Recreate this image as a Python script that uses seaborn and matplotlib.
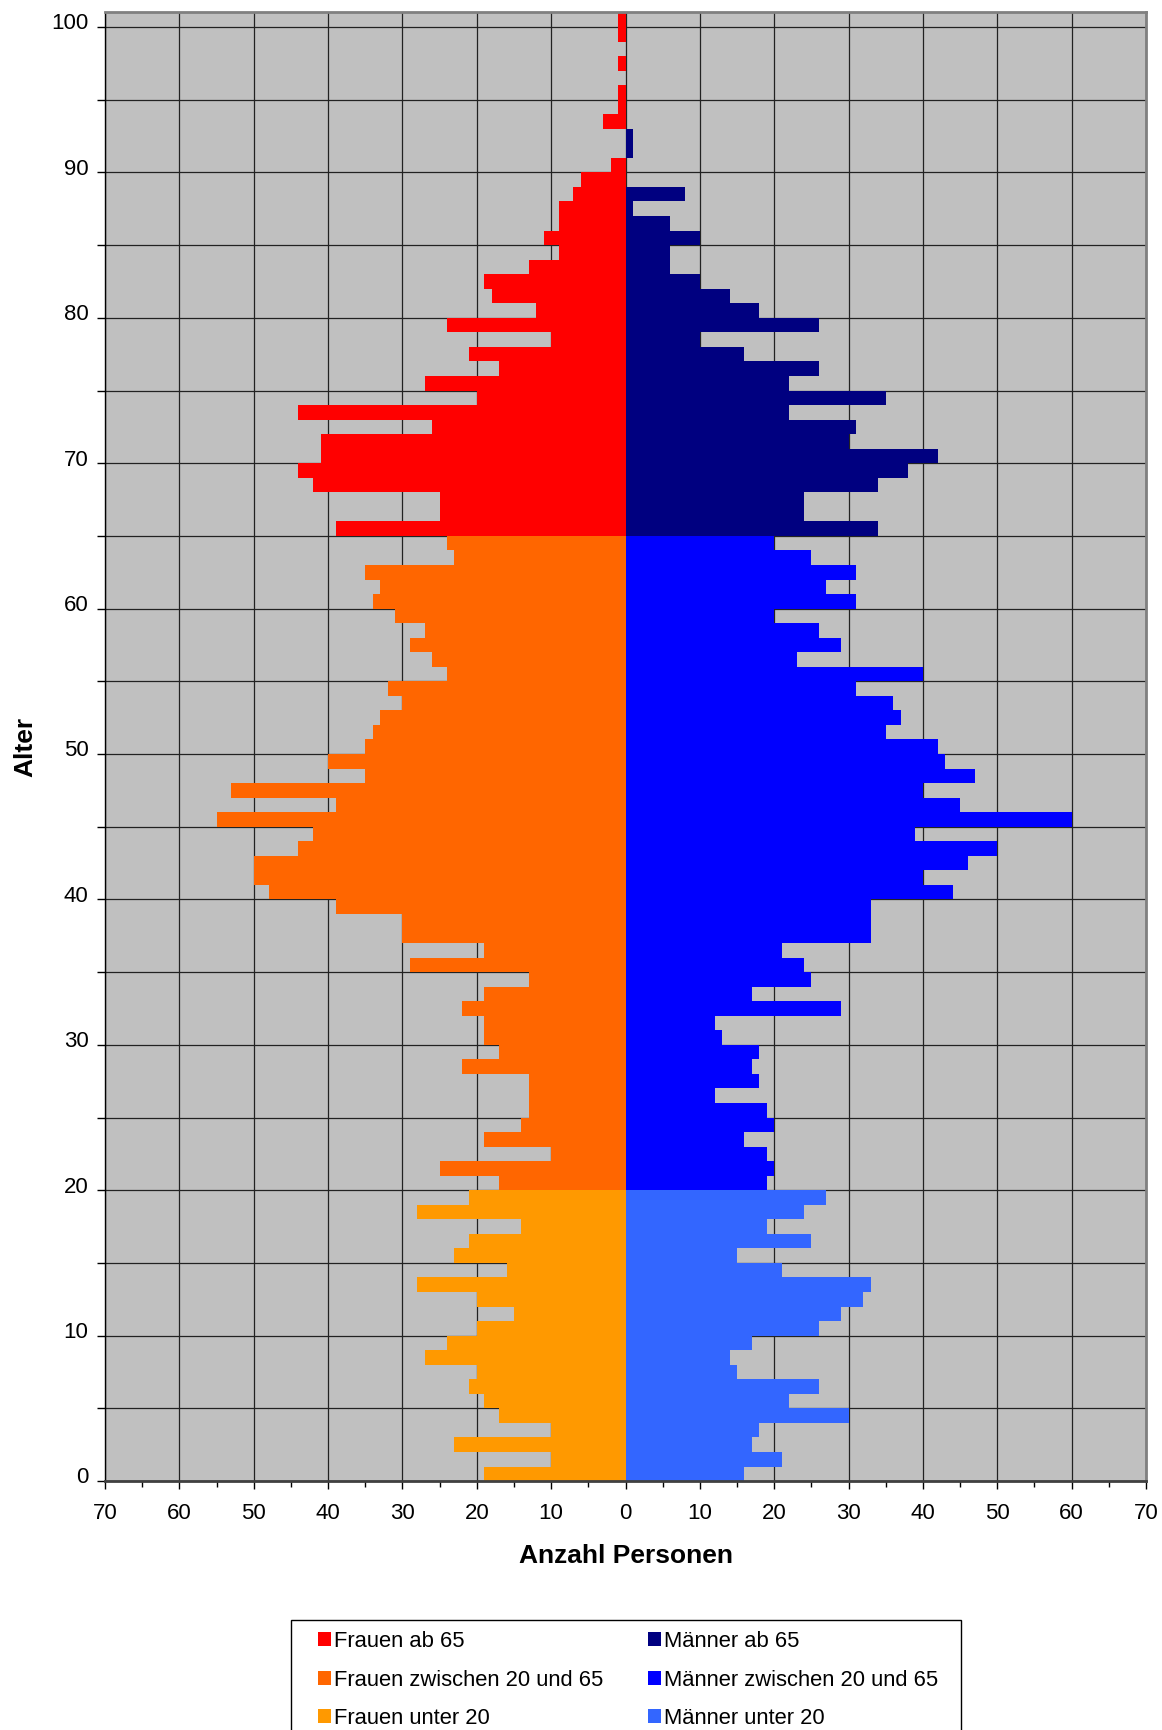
import numpy as np
import pandas as pd
import matplotlib
matplotlib.use("Agg")
import matplotlib.pyplot as plt
import matplotlib.transforms as mtransforms
from matplotlib.patches import Patch, Rectangle
from matplotlib.ticker import FuncFormatter, MultipleLocator
import seaborn as sns

# Alter 0..100
ages = np.arange(101)

frauen = [19, 10, 23, 10, 17, 19, 21, 20, 27, 24,
          20, 15, 20, 28, 16, 23, 21, 14, 28, 21,
          17, 25, 10, 19, 14, 13, 13, 13, 22, 17,
          19, 19, 22, 19, 13, 29, 19, 30, 30, 39,
          48, 50, 50, 44, 42, 55, 39, 53, 35, 40,
          35, 34, 33, 30, 32, 24, 26, 29, 27, 31,
          34, 33, 35, 23, 24, 39, 25, 25, 42, 44,
          41, 41, 26, 44, 20, 27, 17, 21, 10, 24,
          12, 18, 19, 13, 9, 11, 9, 9, 7, 6,
          2, 0, 0, 3, 1, 1, 0, 1, 0, 1,
          1]

maenner = [16, 21, 17, 18, 30, 22, 26, 15, 14, 17,
           26, 29, 32, 33, 21, 15, 25, 19, 24, 27,
           19, 20, 19, 16, 20, 19, 12, 18, 17, 18,
           13, 12, 29, 17, 25, 24, 21, 33, 33, 33,
           44, 40, 46, 50, 39, 60, 45, 40, 47, 43,
           42, 35, 37, 36, 31, 40, 23, 29, 26, 20,
           31, 27, 31, 25, 20, 34, 24, 24, 34, 38,
           42, 30, 31, 22, 35, 22, 26, 16, 10, 26,
           18, 14, 10, 6, 6, 10, 6, 1, 8, 0,
           0, 1, 1, 0, 0, 0, 0, 0, 0, 0,
           0]

gruppen = ["Frauen ab 65", "Frauen zwischen 20 und 65", "Frauen unter 20",
           "Männer ab 65", "Männer zwischen 20 und 65", "Männer unter 20"]
farben = ["#FF0000", "#FF6600", "#FF9900", "#000080", "#0000FF", "#3366FF"]
palette = dict(zip(gruppen, farben))


def gruppe(geschlecht, alter):
    if alter >= 65:
        return f"{geschlecht} ab 65"
    if alter >= 20:
        return f"{geschlecht} zwischen 20 und 65"
    return f"{geschlecht} unter 20"


rows = []
for a, f, m in zip(ages, frauen, maenner):
    rows.append({"alter": a + 0.5, "anzahl": -f, "gruppe": gruppe("Frauen", a)})
    rows.append({"alter": a + 0.5, "anzahl": m, "gruppe": gruppe("Männer", a)})
df = pd.DataFrame(rows)

plt.rcParams["font.family"] = ["Liberation Sans", "DejaVu Sans"]

W, H = 1162, 1730
fig = plt.figure(figsize=(W / 100, H / 100), dpi=100)
ax = fig.add_axes([0.0904, 0.1439, 0.8958, 0.8489])
ax.set_facecolor("#C0C0C0")

sns.barplot(data=df, x="anzahl", y="alter", hue="gruppe", hue_order=gruppen,
            palette=palette, saturation=1, orient="h", native_scale=True,
            width=1.0, dodge=False, errorbar=None, linewidth=0, legend=False, ax=ax)

ax.set_xlim(-70, 70)
ax.set_ylim(0, 101)

# Achsen / Gitter
ax.set_axisbelow(True)
ax.xaxis.set_major_locator(MultipleLocator(10))
ax.xaxis.set_minor_locator(MultipleLocator(5))
ax.xaxis.set_major_formatter(FuncFormatter(lambda v, p: f"{abs(int(round(v)))}"))
ax.set_yticks(np.arange(0, 101, 5))
ax.set_yticklabels([str(v) if v % 10 == 0 else "" for v in range(0, 101, 5)])
ax.grid(True, which="major", axis="both", color="#222222", linewidth=0.9)

ax.tick_params(axis="x", which="major", length=6, width=1, pad=10, labelsize=16, direction="out")
ax.tick_params(axis="x", which="minor", length=4, width=1, direction="out")
ax.tick_params(axis="y", length=6, width=1, pad=6, labelsize=16, direction="out")

offset = mtransforms.ScaledTranslation(0, 4 / 72, fig.dpi_scale_trans)
for lbl in ax.get_yticklabels():
    lbl.set_transform(lbl.get_transform() + offset)

ax.set_xlabel("Anzahl Personen", fontsize=19, fontweight="bold", labelpad=14)
ax.set_ylabel("Alter", fontsize=19, fontweight="bold", labelpad=10)

for side in ["top", "right"]:
    ax.spines[side].set_color("#808080")
    ax.spines[side].set_linewidth(2)
ax.spines["bottom"].set_color("#404040")
ax.spines["bottom"].set_linewidth(2)
ax.spines["left"].set_color("black")
ax.spines["left"].set_linewidth(1)

# Legendenrahmen (unten abgeschnitten wie im Original)
fig.add_artist(Rectangle((291 / W, -0.05), (961 - 291) / W, 0.05 + 1 - 1620 / H,
                         transform=fig.transFigure, facecolor="white",
                         edgecolor="black", linewidth=1, zorder=1))

handles = [Patch(facecolor=palette[g], edgecolor="none", label=g) for g in gruppen]
leg = fig.legend(handles=handles, ncol=2, loc="upper left",
                 bbox_to_anchor=(318 / W, 1 - 1631 / H), fontsize=15.8,
                 frameon=False, handlelength=0.6, handleheight=0.6,
                 handletextpad=0.15, labelspacing=0.8, columnspacing=2.0,
                 borderpad=0, borderaxespad=0)
leg.set_zorder(2)

fig.savefig("out.png", dpi=100)
